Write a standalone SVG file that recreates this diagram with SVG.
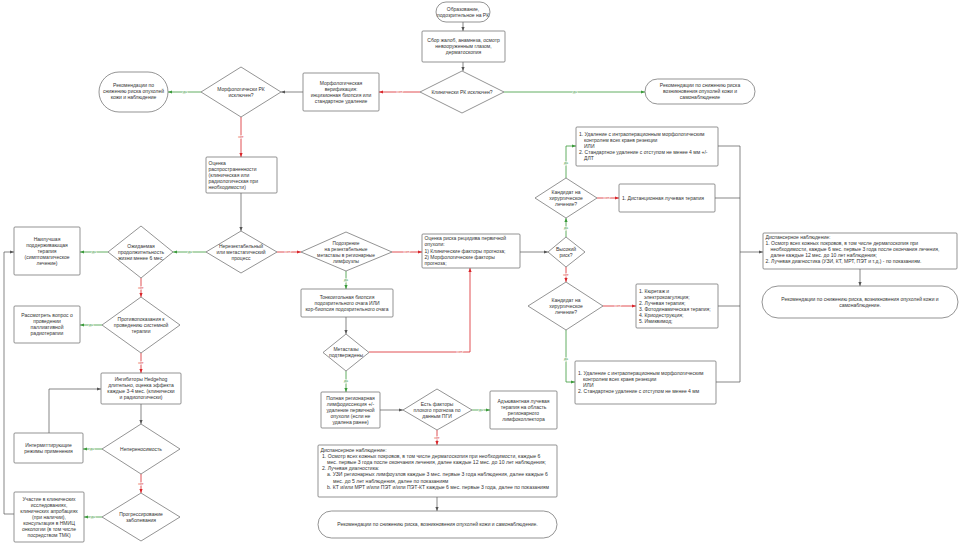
<svg xmlns="http://www.w3.org/2000/svg" width="961" height="543" viewBox="0 0 961 543">
<style>
.b{fill:#fff;stroke:#666;stroke-width:0.7}
.t{font-family:"Liberation Sans",Arial,sans-serif;font-size:5px;fill:#333}
.c{text-anchor:middle}
.k{fill:none;stroke:#555;stroke-width:0.7}
.g{fill:none;stroke:#3a9a3a;stroke-width:0.8}
.r{fill:none;stroke:#d9252a;stroke-width:0.8}
.lg,.lr{font-family:"Liberation Sans",Arial,sans-serif;font-size:3.5px;text-anchor:middle;stroke:#fff;stroke-width:1.2;paint-order:stroke}
.lg{fill:#3a9a3a}.lr{fill:#d9252a}
</style>
<defs>
<marker id="ak" viewBox="0 0 10 10" refX="10" refY="5" markerWidth="4" markerHeight="4" orient="auto" markerUnits="userSpaceOnUse"><path d="M0,1 L10,5 L0,9 z" fill="#555"/></marker>
<marker id="ag" viewBox="0 0 10 10" refX="10" refY="5" markerWidth="4" markerHeight="4" orient="auto" markerUnits="userSpaceOnUse"><path d="M0,1 L10,5 L0,9 z" fill="#3a9a3a"/></marker>
<marker id="ar" viewBox="0 0 10 10" refX="10" refY="5" markerWidth="4" markerHeight="4" orient="auto" markerUnits="userSpaceOnUse"><path d="M0,1 L10,5 L0,9 z" fill="#d9252a"/></marker>
</defs>
<rect width="961" height="543" fill="#fff"/>

<g id="connectors">
<path class="k" d="M463,22 V31" marker-end="url(#ak)"/>
<path class="k" d="M463,62 V71" marker-end="url(#ak)"/>
<path class="r" d="M420,92 H379" marker-end="url(#ar)"/>
<path class="g" d="M504,92 H645" marker-end="url(#ag)"/>
<path class="k" d="M303,92 H281" marker-end="url(#ak)"/>
<path class="g" d="M201,92 H168" marker-end="url(#ag)"/>
<path class="r" d="M241,117 V157" marker-end="url(#ar)"/>
<path class="k" d="M241,193 V231" marker-end="url(#ak)"/>
<path class="g" d="M206,252 H173" marker-end="url(#ag)"/>
<path class="r" d="M277,252 H301" marker-end="url(#ar)"/>
<path class="g" d="M108,252 H80" marker-end="url(#ag)"/>
<path class="r" d="M141,278 V297" marker-end="url(#ar)"/>
<path class="g" d="M102,325 H80" marker-end="url(#ag)"/>
<path class="r" d="M141,353 V373" marker-end="url(#ar)"/>
<path class="k" d="M141,404 V424" marker-end="url(#ak)"/>
<path class="g" d="M102,449 H83" marker-end="url(#ag)"/>
<path class="r" d="M141,474 V493" marker-end="url(#ar)"/>
<path class="g" d="M102,517 H84" marker-end="url(#ag)"/>
<path class="k" d="M49,433 V389 H101" marker-end="url(#ak)"/>
<path class="k" d="M14,514 H4 V252 H14" marker-end="url(#ak)"/>
<path class="r" d="M392,252 H422" marker-end="url(#ar)"/>
<path class="g" d="M346,271 V289" marker-end="url(#ag)"/>
<path class="k" d="M346,317 V334" marker-end="url(#ak)"/>
<path class="r" d="M369,352 H470 V268" marker-end="url(#ar)"/>
<path class="g" d="M346,371 V392" marker-end="url(#ag)"/>
<path class="k" d="M380,410 H403" marker-end="url(#ak)"/>
<path class="g" d="M472,410 H490" marker-end="url(#ag)"/>
<path class="r" d="M437,430 V445" marker-end="url(#ar)"/>
<path class="k" d="M437,497 V511" marker-end="url(#ak)"/>
<path class="k" d="M520,252 H548" marker-end="url(#ak)"/>
<path class="g" d="M566,237 V218" marker-end="url(#ag)"/>
<path class="r" d="M566,267 V282" marker-end="url(#ar)"/>
<path class="g" d="M566,178 V146 H576" marker-end="url(#ag)"/>
<path class="r" d="M597,198 H619" marker-end="url(#ar)"/>
<path class="r" d="M603,306 H636" marker-end="url(#ar)"/>
<path class="g" d="M566,330 V382 H575" marker-end="url(#ag)"/>
<path class="k" d="M718,146 H740 M715,198 H740 M718,306 H740 M716,382 H740 M740,146 V382"/>
<path class="k" d="M740,252 H763" marker-end="url(#ak)"/>
<path class="k" d="M860,269 V286" marker-end="url(#ak)"/>
<text class="lr" x="400" y="93.2">нет</text>
<text class="lg" x="575" y="93.2">да</text>
<text class="lg" x="185" y="93.2">да</text>
<text class="lr" x="241" y="138">нет</text>
<text class="lg" x="190" y="253.2">да</text>
<text class="lr" x="288" y="253.2">нет</text>
<text class="lg" x="94" y="253.2">да</text>
<text class="lr" x="141" y="288.5">нет</text>
<text class="lg" x="91" y="326.2">да</text>
<text class="lr" x="141" y="364">нет</text>
<text class="lg" x="92" y="450.2">да</text>
<text class="lr" x="141" y="484.5">нет</text>
<text class="lg" x="93" y="518.2">да</text>
<text class="lr" x="407" y="253.2">нет</text>
<text class="lg" x="346" y="281">да</text>
<text class="lr" x="460" y="353.2">нет</text>
<text class="lg" x="346" y="382">да</text>
<text class="lg" x="481" y="411.2">да</text>
<text class="lr" x="437" y="439">нет</text>
<text class="lg" x="566" y="228.5">да</text>
<text class="lr" x="566" y="275.5">нет</text>
<text class="lg" x="566" y="164">да</text>
<text class="lr" x="607" y="199.2">нет</text>
<text class="lr" x="618" y="307.2">нет</text>
<text class="lg" x="566" y="360">да</text>
</g>

<g id="start"><rect class="b" x="436" y="2" width="54" height="20" rx="10"/>
<text class="t c"><tspan x="463" y="10.8">Образование,</tspan><tspan x="463" y="16.8">подозрительное на РК</tspan></text></g>

<g id="complaints"><rect class="b" x="422" y="31" width="83" height="31" rx="1"/>
<text class="t c"><tspan x="463.5" y="42.3">Сбор жалоб, анамнеза, осмотр</tspan><tspan x="463.5" y="48.3">невооруженным глазом,</tspan><tspan x="463.5" y="54.3">дерматоскопия</tspan></text></g>

<g id="clin-excluded"><polygon class="b" points="462,71 504,92 462,113 420,92"/>
<text class="t c" x="462" y="93.8">Клинически РК исключен?</text></g>

<g id="morph-verif"><rect class="b" x="303" y="73" width="76" height="38" rx="1"/>
<text class="t c"><tspan x="341" y="84.8">Морфологическая</tspan><tspan x="341" y="90.8">верификация:</tspan><tspan x="341" y="96.8">инцизионная биопсия или</tspan><tspan x="341" y="102.8">стандартное удаление</tspan></text></g>

<g id="morph-excluded"><polygon class="b" points="241,67 281,92 241,117 201,92"/>
<text class="t c"><tspan x="241" y="90.8">Морфологически РК</tspan><tspan x="241" y="96.8">исключен?</tspan></text></g>

<g id="rec-left"><rect class="b" x="99" y="72" width="69" height="40" rx="20"/>
<text class="t c"><tspan x="133.5" y="86.8">Рекомендации по</tspan><tspan x="133.5" y="92.8">снижению риска опухолей</tspan><tspan x="133.5" y="98.8">кожи и наблюдение</tspan></text></g>

<g id="rec-top"><rect class="b" x="645" y="79" width="110" height="25" rx="12.5"/>
<text class="t c"><tspan x="700" y="87.3">Рекомендации по снижению риска</tspan><tspan x="700" y="93.3">возникновения опухолей кожи и</tspan><tspan x="700" y="99.3">самонаблюдение</tspan></text></g>

<g id="extent"><rect class="b" x="206" y="157" width="71" height="36" rx="1"/>
<text class="t"><tspan x="208.5" y="164.8">Оценка</tspan><tspan x="208.5" y="170.8">распространенности</tspan><tspan x="208.5" y="176.8">(клиническая или</tspan><tspan x="208.5" y="182.8">радиологическая при</tspan><tspan x="208.5" y="188.8">необходимости)</tspan></text></g>

<g id="unresectable"><polygon class="b" points="241,231 277,252 241,273 206,252"/>
<text class="t c"><tspan x="241" y="247.8">Нерезектабельный</tspan><tspan x="241" y="253.8">или метастатический</tspan><tspan x="241" y="259.8">процесс</tspan></text></g>

<g id="life-exp"><polygon class="b" points="141,226 173,252 141,278 108,252"/>
<text class="t c"><tspan x="141" y="247.8">Ожидаемая</tspan><tspan x="141" y="253.8">продолжительность</tspan><tspan x="141" y="259.8">жизни менее 6 мес.</tspan></text></g>

<g id="bsc"><rect class="b" x="14" y="227" width="66" height="48" rx="1"/>
<text class="t c"><tspan x="47" y="240.8">Наилучшая</tspan><tspan x="47" y="246.8">поддерживающая</tspan><tspan x="47" y="252.8">терапия</tspan><tspan x="47" y="258.8">(симптоматическое</tspan><tspan x="47" y="264.8">лечение)</tspan></text></g>

<g id="contra"><polygon class="b" points="141,297 180,325 141,353 102,325"/>
<text class="t c"><tspan x="141" y="320.8">Противопоказания к</tspan><tspan x="141" y="326.8">проведению системной</tspan><tspan x="141" y="332.8">терапии</tspan></text></g>

<g id="palliative"><rect class="b" x="14" y="306" width="66" height="37" rx="1"/>
<text class="t c"><tspan x="47" y="317.3">Рассмотреть вопрос о</tspan><tspan x="47" y="323.3">проведении</tspan><tspan x="47" y="329.3">паллиативной</tspan><tspan x="47" y="335.3">радиотерапии</tspan></text></g>

<g id="hedgehog"><rect class="b" x="101" y="373" width="80" height="31" rx="1"/>
<text class="t c"><tspan x="141" y="381.3">Ингибиторы Hedgehog</tspan><tspan x="141" y="387.3">длительно, оценка эффекта</tspan><tspan x="141" y="393.3">каждые 3-4 мес. (клинически</tspan><tspan x="141" y="399.3">и радиологически)</tspan></text></g>

<g id="intolerance"><polygon class="b" points="141,424 180,449 141,474 102,449"/>
<text class="t c" x="141" y="450.8">Непереносимость</text></g>

<g id="intermittent"><rect class="b" x="14" y="433" width="69" height="30" rx="1"/>
<text class="t c"><tspan x="48.5" y="446.8">Интермиттирующие</tspan><tspan x="48.5" y="452.8">режимы применения</tspan></text></g>

<g id="progression"><polygon class="b" points="141,493 180,517 141,541 102,517"/>
<text class="t c"><tspan x="141" y="515.8">Прогрессирование</tspan><tspan x="141" y="521.8">заболевания</tspan></text></g>

<g id="trials"><rect class="b" x="14" y="492" width="70" height="50" rx="1"/>
<text class="t c"><tspan x="49" y="500.8">Участие в клинических</tspan><tspan x="49" y="506.8">исследованиях,</tspan><tspan x="49" y="512.8">клинических апробациях</tspan><tspan x="49" y="518.8">(при наличии),</tspan><tspan x="49" y="524.8">консультация в НМИЦ</tspan><tspan x="49" y="530.8">онкологии (в том числе</tspan><tspan x="49" y="536.8">посредством ТМК)</tspan></text></g>

<g id="suspect-mets"><polygon class="b" points="346,232 392,252 346,271 301,252"/>
<text class="t c" style="font-size:4.8px"><tspan x="346" y="244.8">Подозрение</tspan><tspan x="346" y="250.8">на резектабельные</tspan><tspan x="346" y="256.8">метастазы в регионарные</tspan><tspan x="346" y="262.8">лимфоузлы</tspan></text></g>

<g id="biopsy"><rect class="b" x="301" y="289" width="92" height="28" rx="1"/>
<text class="t c"><tspan x="347" y="298.8">Тонкоигольная биопсия</tspan><tspan x="347" y="304.8">подозрительного очага ИЛИ</tspan><tspan x="347" y="310.8">кор-биопсия подозрительного очага</tspan></text></g>

<g id="mets-confirmed"><polygon class="b" points="346,334 369,352.5 346,371 323,352.5"/>
<text class="t c"><tspan x="346" y="351.3">Метастазы</tspan><tspan x="346" y="357.3">подтверждены</tspan></text></g>

<g id="risk-eval"><rect class="b" x="422" y="234" width="98" height="34" rx="1"/>
<text class="t"><tspan x="424.5" y="240">Оценка риска рецидива первичной</tspan><tspan x="424.5" y="246.3">опухоли:</tspan><tspan x="424.5" y="252.6">1) Клинические факторы прогноза;</tspan><tspan x="424.5" y="258.9">2) Морфологические факторы</tspan><tspan x="424.5" y="265.2">прогноза;</tspan></text></g>

<g id="lnd"><rect class="b" x="321" y="392" width="59" height="36" rx="1"/>
<text class="t c"><tspan x="350.5" y="399.8">Полная регионарная</tspan><tspan x="350.5" y="405.8">лимфодиссекция +/-</tspan><tspan x="350.5" y="411.8">удаление первичной</tspan><tspan x="350.5" y="417.8">опухоли (если не</tspan><tspan x="350.5" y="423.8">удалена ранее)</tspan></text></g>

<g id="poor-prog"><polygon class="b" points="437,389 472,410 437,430 403,410"/>
<text class="t c"><tspan x="437" y="405.8">Есть факторы</tspan><tspan x="437" y="411.8">плохого прогноза по</tspan><tspan x="437" y="417.8">данным ПГИ</tspan></text></g>

<g id="adjuvant"><rect class="b" x="490" y="391" width="67" height="38" rx="1"/>
<text class="t c"><tspan x="523.5" y="402.8">Адъювантная лучевая</tspan><tspan x="523.5" y="408.8">терапия на область</tspan><tspan x="523.5" y="414.8">регионарного</tspan><tspan x="523.5" y="420.8">лимфоколлектора</tspan></text></g>

<g id="followup-mid"><rect class="b" x="318" y="445" width="239" height="52" rx="1"/>
<text class="t" style="font-size:5.1px"><tspan x="320.5" y="451.5">Диспансерное наблюдение:</tspan><tspan x="322" y="457.7">1. Осмотр всех кожных покровов, в том числе дерматоскопия при необходимости, каждые 6</tspan><tspan x="327" y="463.9">мес. первые 3 года после окончания лечения, далее каждые 12 мес. до 10 лет наблюдения;</tspan><tspan x="322" y="470.1">2. Лучевая диагностика:</tspan><tspan x="327" y="476.3">a.  УЗИ регионарных лимфоузлов каждые 3 мес. первые 3 года наблюдения, далее каждые 6</tspan><tspan x="333" y="482.5">мес. до 5 лет наблюдения, далее по показаниям</tspan><tspan x="327" y="488.7">b.  КТ и/или МРТ и/или ПЭТ и/или ПЭТ-КТ каждые 6 мес. первые 3 года, далее по показаниям</tspan></text></g>

<g id="rec-mid"><rect class="b" x="318" y="511" width="239" height="27" rx="13.5"/>
<text class="t c" x="437.5" y="526.3">Рекомендации по снижению риска, возникновения опухолей кожи и самонаблюдение.</text></g>

<g id="high-risk"><polygon class="b" points="566,237 585,252 566,267 548,252"/>
<text class="t c"><tspan x="566" y="250.8">Высокий</tspan><tspan x="566" y="256.8">риск?</tspan></text></g>

<g id="candidate-1"><polygon class="b" points="566,178 597,198 566,218 535,198"/>
<text class="t c"><tspan x="566" y="193.8">Кандидат на</tspan><tspan x="566" y="199.8">хирургическое</tspan><tspan x="566" y="205.8">лечение?</tspan></text></g>

<g id="surgery-1"><rect class="b" x="576" y="127" width="142" height="39" rx="1"/>
<text class="t"><tspan x="579" y="135.5">1. Удаление с интраоперационным морфологическим</tspan><tspan x="584" y="141.5">контролем всех краев резекции</tspan><tspan x="584" y="147.5">ИЛИ</tspan><tspan x="579" y="153.5">2. Стандартное удаление с отступом не менее 4 мм +/-</tspan><tspan x="584" y="159.5">ДЛТ</tspan></text></g>

<g id="radiation"><rect class="b" x="619" y="184" width="96" height="28" rx="1"/>
<text class="t" x="622" y="199.8">1. Дистанционная лучевая терапия</text></g>

<g id="candidate-2"><polygon class="b" points="566,282 603,306 566,330 528,306"/>
<text class="t c"><tspan x="566" y="301.8">Кандидат на</tspan><tspan x="566" y="307.8">хирургическое</tspan><tspan x="566" y="313.8">лечение?</tspan></text></g>

<g id="local-methods"><rect class="b" x="636" y="284" width="82" height="44" rx="1"/>
<text class="t"><tspan x="639" y="292.8">1. Кюретаж и</tspan><tspan x="644" y="298.8">электрокоагуляция;</tspan><tspan x="639" y="304.8">2.  Лучевая терапия;</tspan><tspan x="639" y="310.8">3. Фотодинамическая терапия;</tspan><tspan x="639" y="316.8">4. Криодеструкция;</tspan><tspan x="639" y="322.8">5. Имиквимод;</tspan></text></g>

<g id="surgery-2"><rect class="b" x="575" y="361" width="141" height="43" rx="1"/>
<text class="t"><tspan x="578" y="374.5">1. Удаление с интраоперационным морфологическим</tspan><tspan x="583" y="380.5">контролем всех краев резекции</tspan><tspan x="583" y="386.5">ИЛИ</tspan><tspan x="578" y="392.5">2. Стандартное удаление с отступом не менее 4 мм</tspan></text></g>

<g id="followup-right"><rect class="b" x="763" y="233" width="194" height="36" rx="1"/>
<text class="t"><tspan x="765.5" y="238.5">Диспансерное наблюдение:</tspan><tspan x="765.5" y="244.5">1. Осмотр всех кожных покровов, в том числе дерматоскопия при</tspan><tspan x="770.5" y="250.5">необходимости, каждые 6 мес. первые 3 года после окончания лечения,</tspan><tspan x="770.5" y="256.5">далее каждые 12 мес. до 10 лет наблюдения;</tspan><tspan x="765.5" y="262.5">2. Лучевая диагностика (УЗИ, КТ, МРТ, ПЭТ и т.д.) - по показаниям.</tspan></text></g>

<g id="rec-right"><rect class="b" x="762" y="286" width="196" height="32" rx="16"/>
<text class="t c"><tspan x="860" y="300.8">Рекомендации по снижению риска, возникновения опухолей кожи и</tspan><tspan x="860" y="306.8">самонаблюдение.</tspan></text></g>
</svg>
